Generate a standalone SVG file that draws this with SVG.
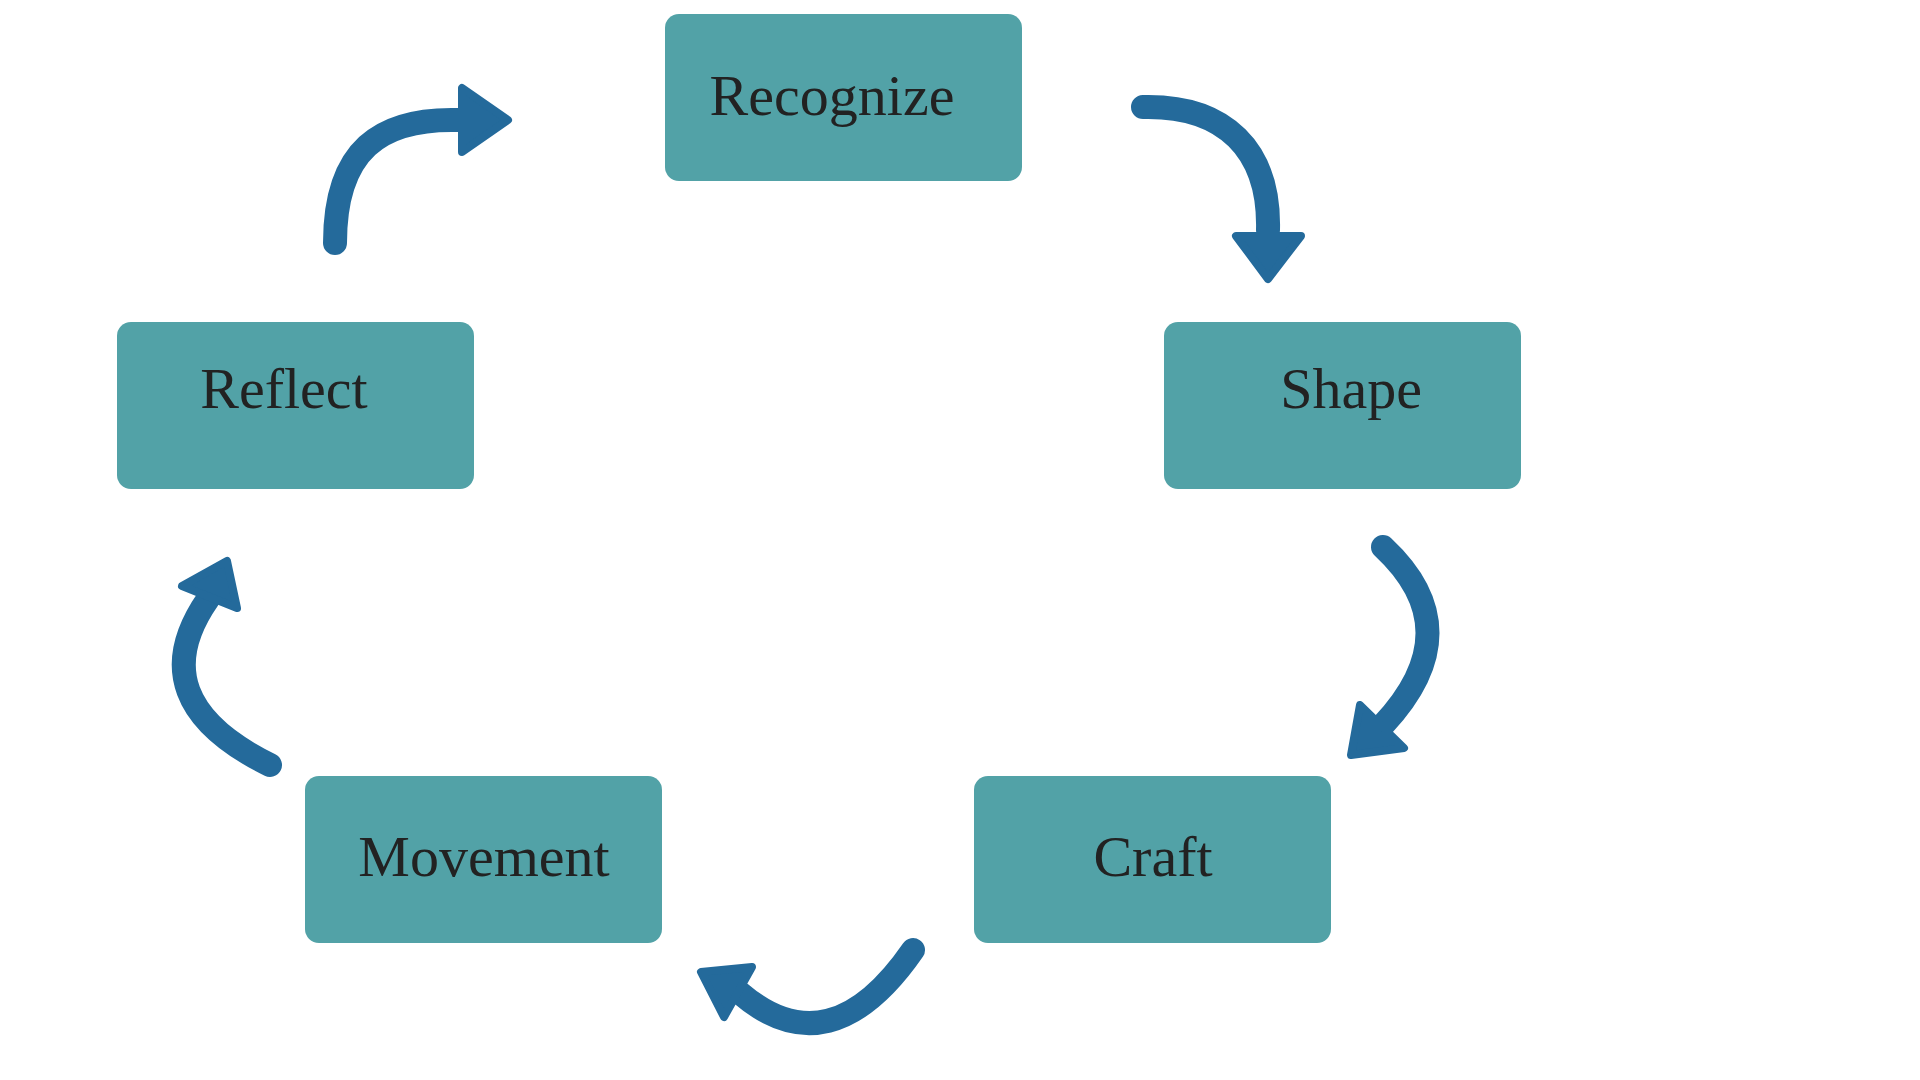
<svg xmlns="http://www.w3.org/2000/svg" width="1920" height="1080" viewBox="0 0 1920 1080">
<style>
.box{fill:#52A2A7;}
.lbl{font-family:"Liberation Serif","DejaVu Serif",serif;font-size:58px;fill:#222222;text-anchor:middle;}
.shaft{fill:none;stroke:#246A9B;stroke-width:24;stroke-linecap:round;}
.head{fill:#246A9B;stroke:#246A9B;stroke-width:8;stroke-linejoin:round;}
</style>
<rect width="1920" height="1080" fill="#ffffff"/>
<g id="recognize"><rect class="box" x="665" y="14" width="357" height="167" rx="14"/><text class="lbl" x="832" y="115">Recognize</text></g>
<g id="shape"><rect class="box" x="1164" y="322" width="357" height="167" rx="14"/><text class="lbl" x="1351" y="408">Shape</text></g>
<g id="craft"><rect class="box" x="974" y="776" width="357" height="167" rx="14"/><text class="lbl" x="1153" y="876">Craft</text></g>
<g id="movement"><rect class="box" x="305" y="776" width="357" height="167" rx="14"/><text class="lbl" x="484" y="876">Movement</text></g>
<g id="reflect"><rect class="box" x="117" y="322" width="357" height="167" rx="14"/><text class="lbl" x="284" y="408">Reflect</text></g>
<g id="connectors">
<path class="shaft" d="M1143,107 C1225,105 1270,150 1268,230"/>
<polygon class="head" points="1236,236 1301,236 1268,279"/>
<path class="shaft" d="M1383,547 Q1472,630 1383,725"/>
<polygon class="head" points="1360,705 1404,748 1351,755"/>
<path class="shaft" d="M913,950 Q830,1070 740,993"/>
<polygon class="head" points="701,972 752,967 724,1017"/>
<path class="shaft" d="M270,765 Q138,700 208,599"/>
<polygon class="head" points="182,586 227,561 237,608"/>
<path class="shaft" d="M335,243 C335,150 380,118 458,120"/>
<polygon class="head" points="462,88 462,152 508,120"/>
</g>
</svg>
